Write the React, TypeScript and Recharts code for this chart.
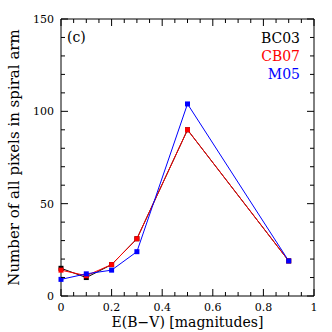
import React from 'react';
import { LineChart, Line, XAxis, YAxis } from 'recharts';

const ebv = [0, 0.1, 0.2, 0.3, 0.5, 0.9];
const bc03 = [15, 10, 17, 31, 90, 19];
const cb07 = [14, 11, 17, 31, 90, 19];
const m05 = [9, 12, 14, 24, 104, 19];

const xTicks = [0, 0.05, 0.1, 0.15, 0.2, 0.25, 0.3, 0.35, 0.4, 0.45, 0.5, 0.55, 0.6, 0.65, 0.7, 0.75, 0.8, 0.85, 0.9, 0.95, 1];
const xMajor = [0, 0.2, 0.4, 0.6, 0.8, 1];
const xLabels = ['0', '0.2', '0.4', '0.6', '0.8', '1'];
const yTicks = [0, 10, 20, 30, 40, 50, 60, 70, 80, 90, 100, 110, 120, 130, 140, 150];
const yMajor = [0, 50, 100, 150];
const yLabels = ['0', '50', '100', '150'];

const data = ebv.map((e, i) => ({ ebv: e, bc03: bc03[i], cb07: cb07[i], m05: m05[i] }));

const FONT = 'DejaVu Serif';
const MAJ = 7;
const MIN = 4;

const majorIndex = (arr: number[], v: number) => arr.findIndex((m) => Math.abs(m - v) < 1e-6);

const BottomTick = (p: any) => {
  const { x, y, payload } = p;
  const i = majorIndex(xMajor, payload.value);
  const len = i >= 0 ? MAJ : MIN;
  return (
    <g>
      <line x1={x} x2={x} y1={y} y2={y - len} stroke="#000" strokeWidth={1} />
      {i >= 0 && (
        <text x={x} y={y + 15} textAnchor="middle" fontFamily={FONT} fontSize={11} fill="#000">
          {xLabels[i]}
        </text>
      )}
    </g>
  );
};

const TopTick = (p: any) => {
  const { x, y, payload } = p;
  const i = majorIndex(xMajor, payload.value);
  const len = i >= 0 ? MAJ : MIN;
  return <line x1={x} x2={x} y1={y} y2={y + len} stroke="#000" strokeWidth={1} />;
};

const LeftTick = (p: any) => {
  const { x, y, payload } = p;
  const i = majorIndex(yMajor, payload.value);
  const len = i >= 0 ? MAJ : MIN;
  return (
    <g>
      <line x1={x} x2={x + len} y1={y} y2={y} stroke="#000" strokeWidth={1} />
      {i >= 0 && (
        <text x={x - 7} y={y + 4} textAnchor="end" fontFamily={FONT} fontSize={11} fill="#000">
          {yLabels[i]}
        </text>
      )}
    </g>
  );
};

const RightTick = (p: any) => {
  const { x, y, payload } = p;
  const i = majorIndex(yMajor, payload.value);
  const len = i >= 0 ? MAJ : MIN;
  return <line x1={x} x2={x - len} y1={y} y2={y} stroke="#000" strokeWidth={1} />;
};

const SquareDot = (color: string) => (p: any) => {
  const { cx, cy, index } = p;
  if (cx == null || cy == null) return <g key={index} />;
  return <rect key={index} x={cx - 2.5} y={cy - 2.5} width={5} height={5} fill={color} />;
};

const YLabel = (p: any) => {
  const vb = p.viewBox || {};
  const cy = (vb.y || 0) + (vb.height || 0) / 2;
  const cx = 14;
  return (
    <text x={cx} y={cy} transform={`rotate(-90 ${cx} ${cy})`} textAnchor="middle" dominantBaseline="central" fontFamily={FONT} fontSize={15} fill="#000">
      Number of all pixels in spiral arm
    </text>
  );
};

const XLabel = (p: any) => {
  const vb = p.viewBox || {};
  const cx = (vb.x || 0) + (vb.width || 0) / 2;
  const y = (vb.y || 0) + 31;
  return (
    <text x={cx} y={y} textAnchor="middle" fontFamily={FONT} fontSize={14} fill="#000">
      E(B−V) [magnitudes]
    </text>
  );
};

const txt: React.CSSProperties = { position: 'absolute', fontFamily: FONT, fontSize: 14, lineHeight: '14px', whiteSpace: 'nowrap' };

export default function App() {
  return (
    <div style={{ position: 'absolute', left: 0, top: 0, width: 332, height: 332, background: '#fff' }}>
      <LineChart width={332} height={332} data={data} margin={{ top: 18, right: 17, bottom: 35, left: 60 }}>
        <XAxis
          xAxisId="bottom"
          dataKey="ebv"
          type="number"
          domain={[0, 1]}
          ticks={xTicks}
          interval={0}
          height={1}
          tickSize={0}
          tickMargin={0}
          tickLine={false}
          axisLine={{ stroke: '#000' }}
          tick={BottomTick}
          label={{ content: XLabel }}
        />
        <XAxis
          xAxisId="top"
          orientation="top"
          dataKey="ebv"
          type="number"
          domain={[0, 1]}
          ticks={xTicks}
          interval={0}
          height={1}
          tickSize={0}
          tickMargin={0}
          tickLine={false}
          axisLine={{ stroke: '#000' }}
          tick={TopTick}
        />
        <YAxis
          yAxisId="left"
          type="number"
          domain={[0, 150]}
          ticks={yTicks}
          interval={0}
          width={1}
          tickSize={0}
          tickMargin={0}
          tickLine={false}
          axisLine={{ stroke: '#000' }}
          tick={LeftTick}
          label={{ content: YLabel }}
        />
        <YAxis
          yAxisId="right"
          orientation="right"
          type="number"
          domain={[0, 150]}
          ticks={yTicks}
          interval={0}
          width={1}
          tickSize={0}
          tickMargin={0}
          tickLine={false}
          axisLine={{ stroke: '#000' }}
          tick={RightTick}
        />
        <Line xAxisId="top" yAxisId="right" dataKey="m05" stroke="none" dot={false} activeDot={false} legendType="none" isAnimationActive={false} />
        <Line xAxisId="bottom" yAxisId="left" dataKey="bc03" stroke="#000" strokeWidth={1} dot={SquareDot('#000')} activeDot={false} isAnimationActive={false} />
        <Line xAxisId="bottom" yAxisId="left" dataKey="cb07" stroke="#ff0000" strokeWidth={1} dot={SquareDot('#ff0000')} activeDot={false} isAnimationActive={false} />
        <Line xAxisId="bottom" yAxisId="left" dataKey="m05" stroke="#0000ff" strokeWidth={1} dot={SquareDot('#0000ff')} activeDot={false} isAnimationActive={false} />
      </LineChart>
      <div style={{ ...txt, left: 67, top: 30, color: '#000' }}>(c)</div>
      <div style={{ ...txt, right: 32, top: 31, color: '#000' }}>BC03</div>
      <div style={{ ...txt, right: 32, top: 48.5, color: '#ff0000' }}>CB07</div>
      <div style={{ ...txt, right: 32, top: 66.5, color: '#0000ff' }}>M05</div>
    </div>
  );
}
